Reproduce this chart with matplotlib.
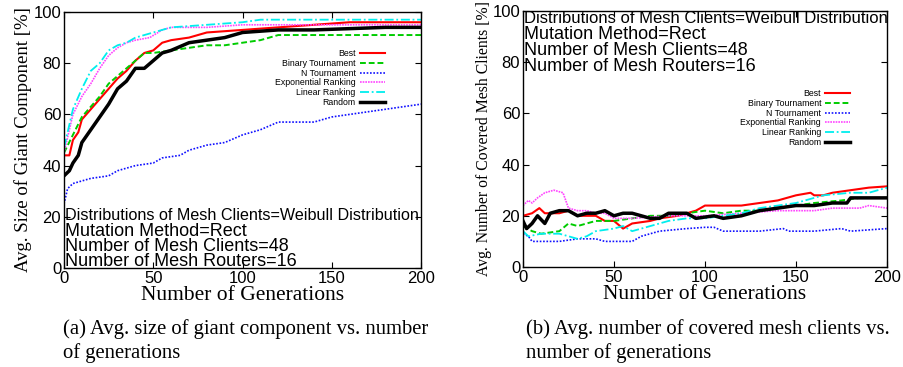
import matplotlib
matplotlib.use("Agg")
import matplotlib.pyplot as plt

# (a) avg. size of giant component [%]
gen_a_best = [0, 3, 5, 8, 10, 15, 20, 25, 30, 35, 40, 45, 50, 55, 60, 70, 80, 100, 120, 140, 160, 200]
best_a = [44, 44, 50, 53, 58, 62, 66, 70, 74, 77, 81, 84, 85, 88, 89, 90, 92, 93, 94, 95, 96, 96]
gen_a_bin = [0, 5, 10, 15, 20, 25, 30, 35, 40, 45, 50, 60, 70, 80, 90, 100, 110, 120, 140, 200]
bin_a = [45, 52, 59, 63, 67, 72, 75, 78, 81, 84, 84, 85, 86, 87, 87, 88, 89, 91, 91, 91]
gen_a_nt = [0, 2, 5, 10, 15, 25, 30, 40, 50, 55, 65, 70, 80, 90, 100, 110, 120, 140, 150, 160, 170, 180, 190, 200]
nt_a = [25, 31, 33, 34, 35, 36, 38, 40, 41, 43, 44, 46, 48, 49, 52, 54, 57, 57, 59, 60, 61, 62, 63, 64]
gen_a_exp = [0, 5, 10, 15, 20, 25, 30, 35, 40, 48, 55, 60, 80, 100, 120, 140, 200]
exp_a = [45, 60, 67, 72, 78, 83, 86, 88, 89, 90, 93, 94, 94, 95, 95, 95, 95]
gen_a_lin = [0, 5, 10, 15, 20, 25, 30, 35, 40, 50, 60, 80, 100, 110, 200]
lin_a = [47, 62, 70, 77, 80, 85, 87, 88, 90, 92, 94, 95, 96, 97, 97]
gen_a_rnd = [0, 3, 5, 8, 10, 15, 20, 25, 30, 35, 40, 45, 50, 55, 60, 70, 80, 90, 100, 120, 140, 180, 200]
rnd_a = [36, 38, 41, 44, 49, 54, 59, 64, 70, 73, 78, 78, 81, 84, 85, 88, 89, 90, 92, 93, 93, 94, 94]

# (b) avg. number of covered mesh clients [%]
gen_b_best = [0, 5, 9, 12, 20, 25, 30, 40, 45, 50, 55, 60, 70, 75, 85, 90, 95, 100, 120, 130, 140, 150, 158, 160, 165, 170, 180, 190, 200]
best_b = [20, 21, 23, 21, 21, 22, 20, 20, 18, 18, 15, 17, 18, 19, 20, 21, 22, 24, 24, 25, 26, 28, 29, 28, 28, 29, 30, 31, 31.5]
gen_b_bin = [0, 5, 10, 20, 25, 30, 35, 40, 50, 60, 70, 80, 90, 100, 110, 120, 130, 140, 150, 160, 175, 185, 200]
bin_b = [16, 14, 13, 14, 17, 16, 17, 18, 18, 19, 20, 20, 21, 22, 21, 22, 22, 23, 24, 25, 26, 27, 27]
gen_b_nt = [0, 3, 5, 20, 30, 40, 45, 60, 65, 75, 90, 100, 105, 110, 120, 130, 143, 146, 160, 175, 180, 200]
nt_b = [13, 12, 10, 10, 11, 11, 10, 10, 12, 14, 15, 15.5, 15.5, 14, 14, 14, 15, 14, 14, 15, 14, 15]
gen_b_exp = [0, 3, 5, 8, 12, 17, 22, 25, 30, 35, 40, 45, 50, 55, 60, 80, 100, 120, 140, 160, 170, 185, 190, 200]
exp_b = [24, 26, 25, 27, 29, 30, 29, 23, 22, 22, 21, 21, 19, 19, 19, 20, 20, 21, 22, 22, 23, 23, 24, 23]
gen_b_lin = [0, 3, 10, 20, 25, 30, 35, 40, 50, 55, 60, 70, 80, 90, 100, 110, 120, 130, 140, 150, 160, 165, 180, 190, 200]
lin_b = [14, 12, 13, 13, 12, 11, 12, 14, 15, 16, 14, 16, 18, 19, 19, 20, 21, 23, 24, 25, 27, 28, 29, 29, 31]
gen_b_rnd = [0, 2, 5, 8, 12, 15, 20, 25, 30, 35, 40, 45, 50, 55, 60, 70, 75, 80, 90, 95, 105, 110, 120, 130, 140, 150, 160, 170, 178, 180, 200]
rnd_b = [18, 15, 17, 20, 17, 21, 22, 22, 20, 21, 21, 22, 20, 21, 21, 19, 19, 21, 21, 19, 20, 19, 20, 22, 23, 24, 24, 25, 25, 27, 27]

labels = ["Best", "Binary Tournament", "N Tournament", "Exponential Ranking", "Linear Ranking", "Random"]
colors = ["#ff0000", "#00cc00", "#1010ff", "#ff44ff", "#00eeee", "#000000"]
styles = ["-", (0, (3, 1.5)), (0, (1, 1)), (0, (1, 0.6)), (0, (5, 1.5, 1, 1.5)), "-"]
widths = [1.5, 1.4, 1.2, 1.2, 1.3, 2.5]

info = ["Distributions of Mesh Clients=Weibull Distribution",
        "Mutation Method=Rect",
        "Number of Mesh Clients=48",
        "Number of Mesh Routers=16"]

sans = ["Liberation Sans", "DejaVu Sans"]
serif = ["Liberation Serif", "DejaVu Serif"]

fig = plt.figure(figsize=(9.04, 3.67), dpi=100)
ax1 = fig.add_axes([0.0708, 0.2698, 0.395, 0.6975])
ax2 = fig.add_axes([0.5785, 0.2725, 0.4027, 0.6975])

series_a = [(gen_a_best, best_a), (gen_a_bin, bin_a), (gen_a_nt, nt_a),
            (gen_a_exp, exp_a), (gen_a_lin, lin_a), (gen_a_rnd, rnd_a)]
series_b = [(gen_b_best, best_b), (gen_b_bin, bin_b), (gen_b_nt, nt_b),
            (gen_b_exp, exp_b), (gen_b_lin, lin_b), (gen_b_rnd, rnd_b)]

for ax, series in [(ax1, series_a), (ax2, series_b)]:
    for (x, y), lab, c, ls, lw in zip(series, labels, colors, styles, widths):
        ax.plot(x, y, color=c, ls=ls, lw=lw, label=lab)
    ax.set_xlim(0, 200)
    ax.set_ylim(0, 100)
    ax.set_xticks([0, 50, 100, 150, 200])
    ax.set_yticks([0, 20, 40, 60, 80, 100])
    ax.tick_params(direction="in", top=True, right=True, length=4, width=0.8, pad=2)
    for t in ax.get_xticklabels() + ax.get_yticklabels():
        t.set_family(sans)
        t.set_fontsize(12)
    for s in ax.spines.values():
        s.set_linewidth(1.0)
    ax.set_xlabel("Number of Generations", family=serif, fontsize=15.5, labelpad=0)

ax1.set_ylabel("Avg. Size of Giant Component [%]", family=serif, fontsize=13.5, labelpad=1)
ax2.set_ylabel("Avg. Number of Covered Mesh Clients [%]", family=serif, fontsize=11.3, labelpad=0)

leg_kw = dict(frameon=False, markerfirst=False, handlelength=2.85, handletextpad=0.5,
              labelspacing=0.08, borderaxespad=0, prop={"family": sans, "size": 6.3})
ax1.legend(loc="upper right", bbox_to_anchor=(0.908, 0.868), **leg_kw)
ax2.legend(loc="upper right", bbox_to_anchor=(0.909, 0.708), **leg_kw)

for ys, sizes, ax in [([18.8, 12.5, 6.8, 0.9], [11.6, 13, 13, 13], ax1),
                      ([95.2, 88.9, 82.8, 76.7], [12, 13, 13, 13], ax2)]:
    for line, yy, fs in zip(info, ys, sizes):
        ax.text(0.5, yy, line, family=sans, fontsize=fs, ha="left", va="baseline")

cap = dict(family=serif, fontsize=14.9)
fig.text(0.070, 0.09, "(a) Avg. size of giant component vs. number", **cap)
fig.text(0.070, 0.025, "of generations", **cap)
fig.text(0.582, 0.09, "(b) Avg. number of covered mesh clients vs.", **cap)
fig.text(0.582, 0.025, "number of generations", **cap)

fig.savefig("out.png", dpi=100)
